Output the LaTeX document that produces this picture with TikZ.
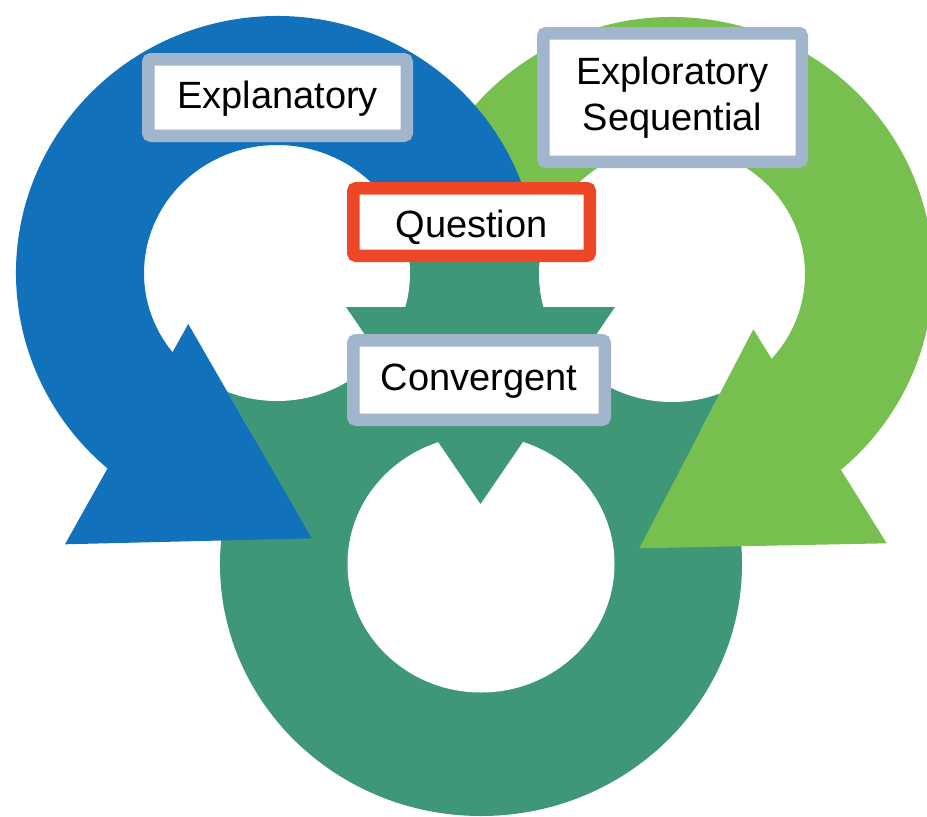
\documentclass[tikz,border=0pt]{standalone}
\usepackage{fontspec}
\setmainfont{Liberation Sans}
\definecolor{bluec}{RGB}{17,114,187}
\definecolor{greenc}{RGB}{119,192,79}
\definecolor{tealc}{RGB}{62,151,118}
\definecolor{redc}{RGB}{238,71,39}
\definecolor{framec}{RGB}{161,182,204}
\begin{document}
\begin{tikzpicture}[x=1pt,y=-1pt,
  labelbox/.style={rectangle, draw=framec, fill=white, line width=12.5pt,
    rounded corners=3pt, inner sep=0pt, align=center,
    font=\fontsize{38}{46}\selectfont},
  oneline/.style={text height=28pt, text depth=7pt},
  questionbox/.style={labelbox, draw=redc}]
\useasboundingbox (0,0) rectangle (927,817);
\clip (0,0) rectangle (927,817);

% ring centres
\coordinate (bc) at (277,273);
\coordinate (gc) at (672,274);
\coordinate (tc) at (481,564);
% arrowhead corners
\coordinate (bA) at (65,544.3);
\coordinate (bB) at (311.7,538.3);
\coordinate (bC) at (188.3,324);
\coordinate (gA) at (886.7,543.3);
\coordinate (gB) at (639.3,548.3);
\coordinate (gC) at (753.3,329.3);
\coordinate (tL) at (346,307);
\coordinate (tR) at (615,307);
\coordinate (tT) at (480.5,504);

% teal body: ring disc plus the area between the two upper rings
\fill[tealc] (tc) ellipse[x radius=261, y radius=252];
\fill[tealc] (bC) -- (bB) -- (gB) -- (gC) -- (700,240) -- (250,240) -- cycle;

% holes of the three rings
\fill[white] (bc) ellipse[x radius=133, y radius=128];
\fill[white] (gc) ellipse[x radius=133, y radius=128];
\fill[white] (tc) ellipse[x radius=133.5, y radius=128.5];

% green circular arrow
\fill[greenc] ([shift={(188:261 and 257)}]gc)
  arc[start angle=188, end angle=409.66, x radius=261, y radius=257]
  -- (gA) -- (gB) -- (gC) -- ([shift={(41.47:133 and 128)}]gc)
  arc[start angle=41.47, end angle=-172, x radius=133, y radius=128] -- cycle;

% blue circular arrow
\fill[bluec] ([shift={(-8:261 and 257)}]bc)
  arc[start angle=-8, end angle=-229.5, x radius=261, y radius=257]
  -- (bA) -- (bB) -- (bC) -- ([shift={(141.78:133 and 128)}]bc)
  arc[start angle=-218.22, end angle=-8, x radius=133, y radius=128] -- cycle;

% teal arrowhead pointing into its ring
\fill[tealc] (tL) -- (tR) -- (tT) -- cycle;

% labels
\node[labelbox, oneline, minimum width=258.5pt, minimum height=76.5pt] (expl) at (277.5,97.5) {Explanatory};
\node[labelbox, minimum width=258.5pt, minimum height=128.5pt] (exps) at (672.5,97.5) {Exploratory\\Sequential};
\node[questionbox, text height=38pt, text depth=8pt, minimum width=236.5pt, minimum height=67.5pt] (quest) at (471.5,222) {Question};
\node[labelbox, oneline, minimum width=251.5pt, minimum height=79.5pt] (conv) at (479,380) {Convergent};
\end{tikzpicture}
\end{document}
